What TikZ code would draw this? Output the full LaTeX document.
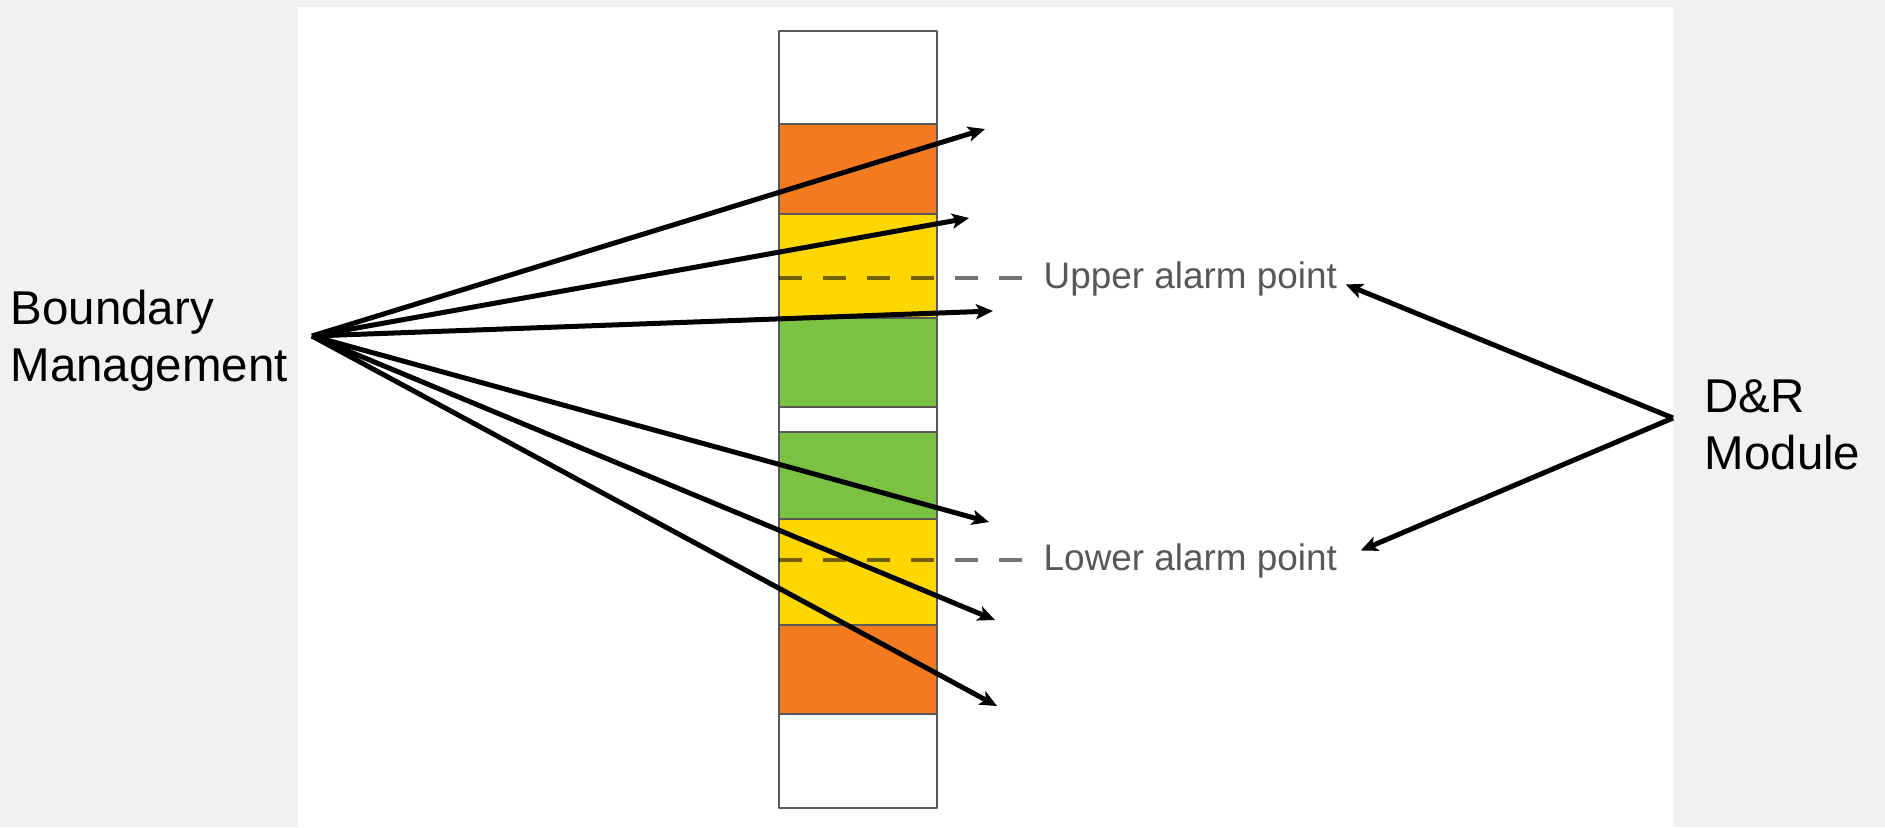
\documentclass[tikz,border=0pt]{standalone}
\usepackage{fontspec}
\setmainfont{Liberation Sans}
\usetikzlibrary{arrows.meta}
\tikzset{>={Stealth[length=0.17cm,width=0.15cm,inset=0.04cm]}}
\definecolor{bggray}{HTML}{F1F1F1}
\definecolor{barorange}{HTML}{F47A20}
\definecolor{baryellow}{HTML}{FED700}
\definecolor{bargreen}{HTML}{7CC242}
\definecolor{labelgray}{HTML}{585858}

\begin{document}
\begin{tikzpicture}[line join=round]

  \tikzset{band/.style={draw=black!65, line width=0.02cm},
           alarm/.style={black, opacity=0.55, line width=0.035cm, dash pattern=on 0.23cm off 0.21cm},
           alarmlabel/.style={anchor=base west, inner sep=0.08cm, text=labelgray, font=\fontsize{10.5pt}{12pt}\selectfont},
           big/.style={anchor=north west, inner sep=0pt, align=left, font=\fontsize{13.5pt}{16.2pt}\selectfont},
           pointer/.style={->, line width=0.05cm}}

  \fill[bggray] (0,0) rectangle (18.85,-8.27);
  \fill[white] (2.98,-0.07) rectangle (16.73,-8.27);

  % the bar, top to bottom
  \foreach \t/\b/\c in {0.31/1.24/white, 1.24/2.14/barorange, 2.14/3.18/baryellow,
                        3.18/4.07/bargreen, 4.07/4.32/white, 4.32/5.19/bargreen,
                        5.19/6.25/baryellow, 6.25/7.14/barorange, 7.14/8.08/white}
    \draw[band, fill=\c] (7.79,-\t) rectangle (9.37,-\b);

  % alarm points
  \draw[alarm] (7.79,-2.78) -- (10.23,-2.78);
  \node[alarmlabel] (up) at (10.35,-2.88) {Upper alarm point};
  \draw[alarm] (7.79,-5.60) -- (10.23,-5.60);
  \node[alarmlabel] (low) at (10.35,-5.70) {Lower alarm point};

  \node[big] (bm) at (0.10,-2.89) {Boundary\\Management};
  \node[big] (dr) at (17.04,-3.79) {D\&R\\Module};

  \coordinate (bmout) at (3.12,-3.36);
  \coordinate (drout) at (16.73,-4.18);

  % boundaries, each arrow ends just right of the bar
  \foreach \n/\x/\y in {1/9.85/1.29, 2/9.69/2.18, 3/9.93/3.11,
                        4/9.89/5.22, 5/9.95/6.20, 6/9.97/7.06} {
    \coordinate (b\n) at (\x,-\y);
    \draw[pointer] (bmout) -- (b\n);
  }

  % detection and response
  \coordinate (upin) at ([yshift=-0.06cm]up.east);
  \coordinate (lowin) at ([xshift=0.15cm,yshift=0.10cm]low.east);
  \draw[pointer] (drout) -- (upin);
  \draw[pointer] (drout) -- (lowin);

\end{tikzpicture}
\end{document}
